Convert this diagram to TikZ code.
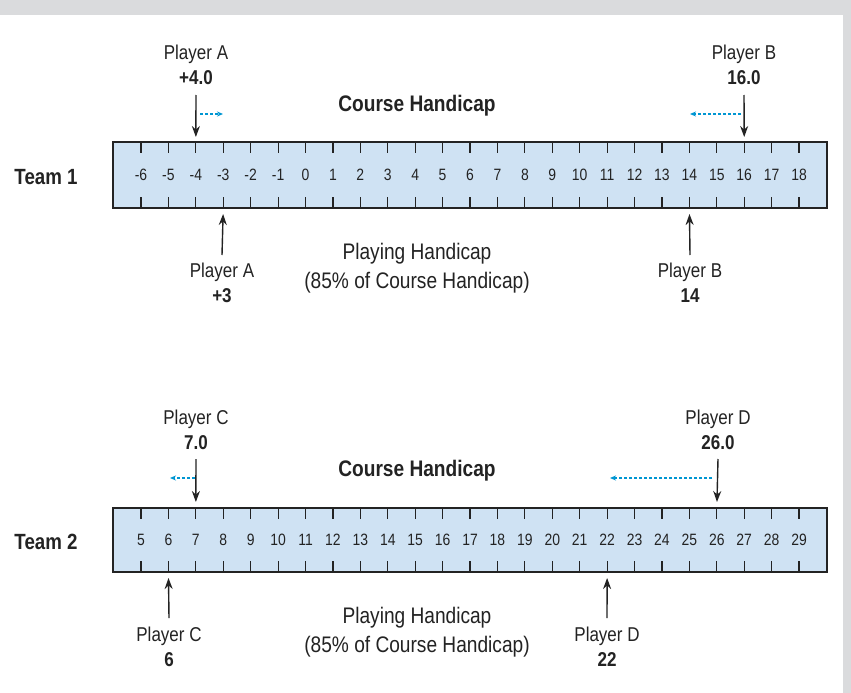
\documentclass[tikz,border=0pt]{standalone}
\usepackage{xcolor}
\usepackage{fontspec}
\setmainfont{Liberation Sans}[FakeStretch=0.85]
\usetikzlibrary{arrows.meta, positioning}

\definecolor{rulerfill}{RGB}{207,226,243}
\definecolor{shiftblue}{RGB}{0,150,210}
\definecolor{bandgray}{RGB}{218,219,221}
\definecolor{ink}{RGB}{35,35,35}

\begin{document}
\begin{tikzpicture}[x=1pt, y=-1pt,
    ruler/.style={draw=ink, line width=1.4pt, fill=rulerfill, rectangle, inner sep=0pt},
    tick/.style={draw=ink, line width=1.2pt},
    num/.style={text=ink, font=\fontsize{16.4}{19}\selectfont},
    team/.style={text=ink, font=\bfseries\fontsize{22}{25}\selectfont},
    head/.style={text=ink, font=\bfseries\fontsize{22.5}{26}\selectfont},
    player/.style={align=center, inner sep=0pt, text=ink, font=\fontsize{20}{25}\selectfont},
    note/.style={align=center, inner sep=0pt, text=ink, font=\fontsize{22.5}{29}\selectfont},
    pointer/.style={-{Stealth[length=11pt,width=8pt]}, draw=ink, line width=1.4pt},
    shiftarrow/.style={-{Stealth[length=6pt,width=5pt]}, densely dashed, line width=1.1pt, draw=shiftblue}]

    % frame
    \fill[bandgray] (0,0) rectangle (851,693);
    \fill[white] (0,15) rectangle (843,693);
    \useasboundingbox (0,0) rectangle (851,693);

    % team 1
    \node (team1) [team] at (46,177) {Team 1};
    \node (r1) [ruler, minimum width=714pt, minimum height=66pt] at (470,175) {};
    \foreach \v [count=\i] in {-6,...,18} {
        \pgfmathsetmacro\x{141+(\i-1)*27.42}
        \draw[tick] (\x,142) -- (\x,153) (\x,197) -- (\x,208);
        \node (n1-\i) [num] at (\x,175) {\v};
        \coordinate (t1-\i) at (\x,142);
        \coordinate (b1-\i) at (\x,208);
    }
    \node (course1) [head] at (417,106) {Course Handicap};
    \node (play1) [note] at (417,268) {Playing Handicap\\(85\% of Course Handicap)};

    \node (pA1) [player, anchor=south] at (196,85) {Player A\\\textbf{+4.0}};
    \node (pB1) [player, anchor=south] at (744,85) {Player B\\\textbf{16.0}};
    \node (pA2) [player, anchor=north] at (222,263) {Player A\\\textbf{+3}};
    \node (pB2) [player, anchor=north] at (690,263) {Player B\\\textbf{14}};

    \coordinate (pA1s) at (196,95);
    \coordinate (pB1s) at (744,95);
    \coordinate (pA2s) at (222,255);
    \coordinate (pB2s) at (690,255);
    \draw[pointer, shorten >=5pt] (pA1s) -- (t1-3);
    \draw[pointer, shorten >=5pt] (pB1s) -- (t1-23);
    \draw[pointer, shorten >=6pt] (pA2s) -- (b1-4);
    \draw[pointer, shorten >=6pt] (pB2s) -- (b1-21);

    \coordinate (sA0) at (200,114);
    \coordinate (sA1) at (223,114);
    \coordinate (sB0) at (741,114);
    \coordinate (sB1) at (690,114);
    \draw[shiftarrow] (sA0) -- (sA1);
    \draw[shiftarrow] (sB0) -- (sB1);

    % team 2
    \node (team2) [team] at (46,542) {Team 2};
    \node (r2) [ruler, minimum width=714pt, minimum height=64pt] at (470,540) {};
    \foreach \v [count=\i] in {5,...,29} {
        \pgfmathsetmacro\x{141+(\i-1)*27.42}
        \draw[tick] (\x,508) -- (\x,519) (\x,561) -- (\x,572);
        \node (n2-\i) [num] at (\x,540) {\v};
        \coordinate (t2-\i) at (\x,508);
        \coordinate (b2-\i) at (\x,572);
    }
    \node (course2) [head] at (417,471) {Course Handicap};
    \node (play2) [note] at (417,632) {Playing Handicap\\(85\% of Course Handicap)};

    \node (pC1) [player, anchor=south] at (196,450) {Player C\\\textbf{7.0}};
    \node (pD1) [player, anchor=south] at (718,450) {Player D\\\textbf{26.0}};
    \node (pC2) [player, anchor=north] at (169,627) {Player C\\\textbf{6}};
    \node (pD2) [player, anchor=north] at (607,627) {Player D\\\textbf{22}};

    \coordinate (pC1s) at (196,459);
    \coordinate (pD1s) at (718,459);
    \coordinate (pC2s) at (169,618);
    \coordinate (pD2s) at (607,618);
    \draw[pointer, shorten >=6pt] (pC1s) -- (t2-3);
    \draw[pointer, shorten >=6pt] (pD1s) -- (t2-22);
    \draw[pointer, shorten >=6pt] (pC2s) -- (b2-2);
    \draw[pointer, shorten >=6pt] (pD2s) -- (b2-18);

    \coordinate (sC0) at (195,478);
    \coordinate (sC1) at (170,478);
    \coordinate (sD0) at (712,478);
    \coordinate (sD1) at (610,478);
    \draw[shiftarrow] (sC0) -- (sC1);
    \draw[shiftarrow] (sD0) -- (sD1);
\end{tikzpicture}
\end{document}
